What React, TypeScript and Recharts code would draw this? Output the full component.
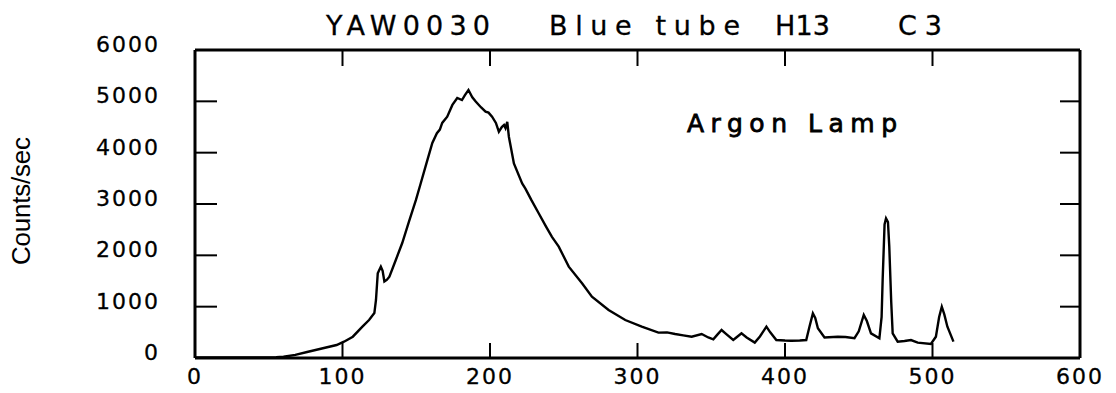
import { LineChart, Line, XAxis, YAxis } from 'recharts';

// channel numbers along the x axis
const channels = [
  0, 20, 40, 55, 60, 68, 76, 86, 96, 101, 107, 113.5, 118, 121.6, 122.7, 123.9, 126, 127.2, 128.4, 130,
  131.8, 136, 140.5, 145, 149.8, 153, 157, 160.9, 164, 166, 167.6, 171, 174.5, 177.8, 181, 183, 185.4, 188,
  190.3, 194, 197, 199, 201.4, 204, 206, 208, 209.5, 210.5, 211.7, 212.8, 216.2, 221.8, 224, 228, 233, 238,
  242, 246.6, 253.4, 262.4, 269.1, 280.4, 291.7, 302.9, 314.2, 320, 325.5, 331, 336.7, 343.5, 348, 351.4,
  354, 357, 360, 364.9, 367, 370.5, 374, 379.5, 383, 387.4, 390, 394.1, 400, 404.3, 410, 414.4, 416.5,
  418.9, 420.5, 422.3, 426.8, 435.8, 441, 447.1, 450, 453.4, 455.5, 458.3, 464, 465.5, 466.2, 467.5, 468.5,
  469.8, 470.7, 472, 473, 476.4, 481, 485.4, 490, 498.9, 502.3, 504.5, 506.3, 508, 510.1, 514.2,
];

// counts per second
const counts = [
  10, 10, 12, 15, 25, 60, 117, 185, 253, 318, 415, 610, 740, 875, 1130, 1650, 1780, 1700, 1490, 1520,
  1585, 1900, 2240, 2650, 3080, 3400, 3800, 4190, 4380, 4450, 4580, 4700, 4930, 5065, 5025, 5120, 5220, 5080,
  4995, 4880, 4800, 4780, 4700, 4580, 4410, 4500, 4540, 4480, 4600, 4310, 3790, 3400, 3300, 3080, 2820, 2560,
  2360, 2170, 1780, 1455, 1195, 935, 740, 610, 495, 500, 467, 440, 415, 467, 400, 365,
  450, 545, 470, 350, 400, 480, 400, 300, 420, 610, 500, 350, 340, 337, 340, 350, 600,
  870, 780, 580, 400, 415, 410, 385, 520, 840, 720, 480, 385, 800, 1520, 2600, 2720,
  2650, 2170, 1100, 480, 318, 330, 350, 300, 272, 415, 800, 1000, 850, 610, 318,
];

const xTicks = [0, 100, 200, 300, 400, 500, 600];
const yTicks = [0, 1000, 2000, 3000, 4000, 5000, 6000];

const titleWords = [
  { text: 'YAW0030', x: 326, len: 164 },
  { text: 'Blue tube', x: 549, len: 191 },
  { text: 'H13', x: 775, len: 55 },
  { text: 'C3', x: 898, len: 44 },
];

const data = channels.map((x, i) => ({ x, counts: counts[i] }));

const W = 1116;
const H = 393;
const LEFT = 195;
const RIGHT = 1080;
const TOP = 50;
const BOTTOM = 358;
const FONT = '"DejaVu Sans", sans-serif';

const BottomTick = (props: any) => {
  const { x, payload } = props;
  return (
    <g>
      <line x1={x} x2={x} y1={BOTTOM} y2={BOTTOM - 15} stroke="#000" strokeWidth={2} />
      <text x={x} y={384} textAnchor="middle" fontFamily={FONT} fontSize={22} letterSpacing={2}
        fill="#000" stroke="#000" strokeWidth={0.3}>
        {payload.value}
      </text>
    </g>
  );
};

const TopTick = (props: any) => {
  const { x } = props;
  return <line x1={x} x2={x} y1={TOP} y2={TOP + 16} stroke="#000" strokeWidth={2} />;
};

const LeftTick = (props: any) => {
  const { y, payload } = props;
  return (
    <g>
      <line x1={LEFT} x2={LEFT + 22} y1={y} y2={y} stroke="#000" strokeWidth={2} />
      <text x={160} y={y + 2} textAnchor="end" fontFamily={FONT} fontSize={22} letterSpacing={2}
        fill="#000" stroke="#000" strokeWidth={0.3}>
        {payload.value}
      </text>
    </g>
  );
};

const RightTick = (props: any) => {
  const { y } = props;
  return <line x1={RIGHT} x2={RIGHT - 20} y1={y} y2={y} stroke="#000" strokeWidth={2} />;
};

const frame = { stroke: '#000', strokeWidth: 3 };

export default function App() {
  return (
    <div style={{ position: 'absolute', left: 0, top: 0, width: W, height: H, background: '#fff' }}>
      <LineChart width={W} height={H} data={data} margin={{ top: 0, right: 0, bottom: 0, left: 0 }}>
        <XAxis
          dataKey="x"
          type="number"
          domain={[0, 600]}
          ticks={xTicks}
          interval={0}
          height={H - BOTTOM}
          tickLine={false}
          tick={BottomTick}
          axisLine={frame}
          allowDataOverflow
        />
        <XAxis
          xAxisId="top"
          orientation="top"
          dataKey="x"
          type="number"
          domain={[0, 600]}
          ticks={xTicks}
          interval={0}
          height={TOP}
          tickLine={false}
          tick={TopTick}
          axisLine={frame}
          allowDataOverflow
        />
        <YAxis
          type="number"
          domain={[0, 6000]}
          ticks={yTicks}
          interval={0}
          width={LEFT}
          tickLine={false}
          tick={LeftTick}
          axisLine={frame}
          allowDataOverflow
        />
        <YAxis
          yAxisId="right"
          orientation="right"
          type="number"
          domain={[0, 6000]}
          ticks={yTicks}
          interval={0}
          width={W - RIGHT}
          tickLine={false}
          tick={RightTick}
          axisLine={frame}
          allowDataOverflow
        />
        <Line
          type="linear"
          dataKey="counts"
          stroke="#000"
          strokeWidth={2.4}
          dot={false}
          isAnimationActive={false}
        />
      </LineChart>
      <svg width={W} height={H} style={{ position: 'absolute', left: 0, top: 0, pointerEvents: 'none' }}>
        {titleWords.map((w) => (
          <text
            key={w.text}
            x={w.x}
            y={35}
            fontFamily={FONT}
            fontSize={27}
            textLength={w.len}
            lengthAdjust="spacing"
            fill="#000"
            stroke="#000"
            strokeWidth={0.3}
          >
            {w.text}
          </text>
        ))}
        <text
          x={687}
          y={132}
          fontFamily={FONT}
          fontSize={25}
          textLength={210}
          lengthAdjust="spacing"
          fill="#000"
          stroke="#000"
          strokeWidth={0.8}
        >
          Argon Lamp
        </text>
        <text
          transform="translate(30, 201) rotate(-90)"
          textAnchor="middle"
          fontFamily='"Liberation Sans Narrow", "Liberation Sans", sans-serif'
          fontSize={26}
          textLength={128}
          lengthAdjust="spacing"
          fill="#000"
        >
          Counts/sec
        </text>
      </svg>
    </div>
  );
}
